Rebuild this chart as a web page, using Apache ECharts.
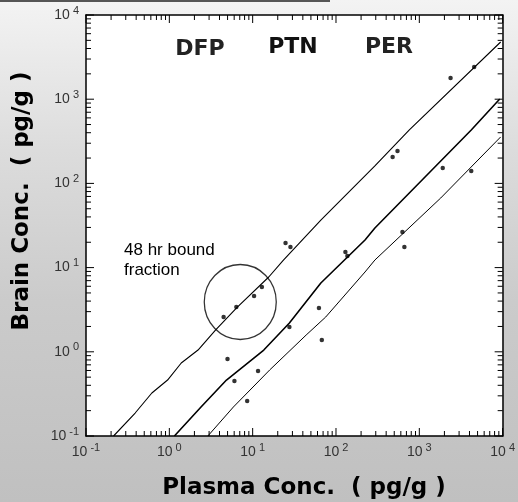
<!DOCTYPE html>
<html><head><meta charset="utf-8">
<script src="https://cdn.jsdelivr.net/npm/echarts@6/dist/echarts.min.js"></script>
<style>html,body{margin:0;padding:0;background:#fff}#c{width:518px;height:502px}</style>
</head><body><div id="c"></div>
<script>
// ---- axis ticks ----
const TICK_VALUES = [0.1, 1, 10, 100, 1000, 10000];
const TICK_EXPONENTS = ['-1', '0', '1', '2', '3', '4'];
const MINOR_MULTIPLIERS = [2, 3, 4, 5, 6, 7, 8, 9];
const DECADES = [0.1, 1, 10, 100, 1000];

// ---- data points (plasma conc, brain conc) ----
const dfpPlasma = [4.48, 6.37, 10.4, 12.9, 24.8, 28.4, 478, 547, 2371, 4550];
const dfpBrain  = [2.59, 3.41, 4.60, 5.88, 19.6, 17.6, 206, 243, 1786, 2411];
const ptnPlasma = [4.99, 6.04, 11.6, 27.6, 129.7, 137, 1909];
const ptnBrain  = [0.82, 0.45, 0.59, 1.97, 15.3, 13.7, 152];
const perPlasma = [8.59, 62.4, 67.6, 627, 662, 4198];
const perBrain  = [0.26, 3.31, 1.38, 26.5, 17.6, 140];

// ---- fitted lines ----
const dfpLineX = [0.214, 0.389, 0.617, 0.953, 1.39, 2.21, 3.60, 6.55, 15.6, 23.4, 65.8, 293, 759, 9460];
const dfpLineY = [0.1, 0.1875, 0.324, 0.462, 0.736, 1.05, 1.82, 3.40, 7.73, 12.3, 36.7, 161, 431, 4780];
const ptnLineX = [1.15, 2.40, 4.85, 13.6, 27.6, 65.8, 223, 293, 4198, 9230];
const ptnLineY = [0.1, 0.221, 0.462, 1.05, 2.20, 6.56, 21.3, 29.5, 431, 1004];
const perLineX = [2.90, 5.87, 12.2, 16.0, 43.8, 75.3, 223, 293, 1807, 9460];
const perLineY = [0.1, 0.221, 0.462, 0.608, 1.58, 2.59, 8.87, 12.3, 67.1, 356];

// ---- annotation ----
const boundCircleCenter = [7.10, 3.90];
const compoundLabels = ['DFP', 'PTN', 'PER'];
const annotationText = '48 hr bound\nfraction';
const xTitle = 'Plasma Conc.  ( pg/g )';
const yTitle = 'Brain Conc.  ( pg/g )';

const X_MIN = TICK_VALUES[0], X_MAX = TICK_VALUES[TICK_VALUES.length - 1];
const Y_MIN = X_MIN, Y_MAX = X_MAX;

const zip = (a, b) => a.map((v, i) => [v, b[i]]);

const tickData = [];
TICK_VALUES.forEach(v => tickData.push([v, 8]));
DECADES.forEach(d => MINOR_MULTIPLIERS.forEach(m => tickData.push([+(m * d).toPrecision(3), 5])));

const labelFont = 'Liberation Sans';
function expLabel(value) {
  let idx = 0, best = Infinity;
  TICK_VALUES.forEach((t, i) => { const d = Math.abs(Math.log10(t) - Math.log10(value)); if (d < best) { best = d; idx = i; } });
  return '{b|10}{e|' + TICK_EXPONENTS[idx] + '}';
}
const richLabel = {
  b: { fontSize: 14, fontFamily: labelFont, color: '#333', lineHeight: 20 },
  e: { fontSize: 11, fontFamily: labelFont, color: '#333', verticalAlign: 'top', lineHeight: 12, padding: [0, 0, 0, 3] }
};

const axisLineStyle = { show: true, lineStyle: { color: '#000', width: 1.5 } };
const titleFont = 'bold 23px "DejaVu Sans"';

const baseGraphics = [
  { type: 'line', shape: { x1: 0, y1: 1, x2: 330, y2: 1 }, style: { stroke: '#555', lineWidth: 2 } },
  { type: 'text', x: 200, y: 49, style: { text: compoundLabels[0], font: 'bold 22px "DejaVu Sans"', fill: '#222', textAlign: 'center', textVerticalAlign: 'middle' } },
  { type: 'text', x: 293, y: 47, style: { text: compoundLabels[1], font: 'bold 22px "DejaVu Sans"', fill: '#111', textAlign: 'center', textVerticalAlign: 'middle' } },
  { type: 'text', x: 389, y: 47, style: { text: compoundLabels[2], font: 'bold 22px "DejaVu Sans"', fill: '#222', textAlign: 'center', textVerticalAlign: 'middle' } },
  { type: 'text', x: 124, y: 240, style: { text: annotationText, font: '17px "Liberation Sans"', fill: '#000', lineHeight: 20, textAlign: 'left', textVerticalAlign: 'top' } },
  { type: 'text', x: 22, y: 201, rotation: Math.PI / 2, style: { text: yTitle, font: titleFont, fill: '#000', textAlign: 'center', textVerticalAlign: 'middle' } },
  { type: 'text', x: 304, y: 488, style: { text: xTitle, font: titleFont, fill: '#000', textAlign: 'center', textVerticalAlign: 'middle' } }
];

const chart = echarts.init(document.getElementById('c'), null, { renderer: 'canvas' });
chart.setOption({
  animation: false,
  backgroundColor: {
    type: 'linear', x: 0, y: 0, x2: 0, y2: 1,
    colorStops: [
      { offset: 0, color: '#f3f3f3' },
      { offset: 0.3, color: '#dcdcdc' },
      { offset: 0.6, color: '#cbcbcb' },
      { offset: 1, color: '#c0c0c0' }
    ]
  },
  grid: { left: 86, top: 15, right: 8, bottom: 66, show: true, backgroundColor: '#fff', borderWidth: 0 },
  xAxis: [
    { type: 'log', logBase: 10, min: X_MIN, max: X_MAX, position: 'bottom',
      axisLine: axisLineStyle, axisTick: { show: false }, splitLine: { show: false },
      axisLabel: { formatter: expLabel, rich: richLabel, margin: 6, showMaxLabel: true, showMinLabel: true } },
    { type: 'log', logBase: 10, min: X_MIN, max: X_MAX, position: 'top',
      axisLine: axisLineStyle, axisTick: { show: false }, splitLine: { show: false }, axisLabel: { show: false } }
  ],
  yAxis: [
    { type: 'log', logBase: 10, min: Y_MIN, max: Y_MAX, position: 'left',
      axisLine: axisLineStyle, axisTick: { show: false }, splitLine: { show: false },
      axisLabel: { formatter: expLabel, rich: richLabel, margin: 7, showMaxLabel: true, showMinLabel: true } },
    { type: 'log', logBase: 10, min: Y_MIN, max: Y_MAX, position: 'right',
      axisLine: axisLineStyle, axisTick: { show: false }, splitLine: { show: false }, axisLabel: { show: false } }
  ],
  series: [
    { name: 'DFP fit', type: 'line', data: zip(dfpLineX, dfpLineY), showSymbol: false, lineStyle: { color: '#000', width: 1.1 } },
    { name: 'PTN fit', type: 'line', data: zip(ptnLineX, ptnLineY), showSymbol: false, lineStyle: { color: '#000', width: 1.6 } },
    { name: 'PER fit', type: 'line', data: zip(perLineX, perLineY), showSymbol: false, lineStyle: { color: '#000', width: 1.0 } },
    { name: 'DFP', type: 'scatter', data: zip(dfpPlasma, dfpBrain), symbol: 'circle', symbolSize: 4.5, itemStyle: { color: '#000' } },
    { name: 'PTN', type: 'scatter', data: zip(ptnPlasma, ptnBrain), symbol: 'circle', symbolSize: 4.5, itemStyle: { color: '#000' } },
    { name: 'PER', type: 'scatter', data: zip(perPlasma, perBrain), symbol: 'circle', symbolSize: 4.5, itemStyle: { color: '#000' } },
    { name: 'bound', type: 'scatter', data: [boundCircleCenter], symbol: 'circle', symbolSize: [72, 75],
      itemStyle: { color: 'rgba(0,0,0,0)', borderColor: '#000', borderWidth: 1.3 }, silent: true }
  ],
  graphic: baseGraphics
});

// inward ticks on all four sides, positioned through the axes' log scales
const tickGraphics = [];
const st = { stroke: '#000', lineWidth: 1 };
const finder = { xAxisIndex: 0, yAxisIndex: 0 };
tickData.forEach(([v, L]) => {
  const b = chart.convertToPixel(finder, [v, Y_MIN]);
  const t = chart.convertToPixel(finder, [v, Y_MAX]);
  const l = chart.convertToPixel(finder, [X_MIN, v]);
  const r = chart.convertToPixel(finder, [X_MAX, v]);
  tickGraphics.push(
    { type: 'line', silent: true, z: 50, shape: { x1: b[0], y1: b[1], x2: b[0], y2: b[1] - L }, style: st },
    { type: 'line', silent: true, z: 50, shape: { x1: t[0], y1: t[1], x2: t[0], y2: t[1] + L }, style: st },
    { type: 'line', silent: true, z: 50, shape: { x1: l[0], y1: l[1], x2: l[0] + L, y2: l[1] }, style: st },
    { type: 'line', silent: true, z: 50, shape: { x1: r[0], y1: r[1], x2: r[0] - L, y2: r[1] }, style: st }
  );
});
chart.setOption({ graphic: baseGraphics.concat(tickGraphics) });
</script>
</body></html>
